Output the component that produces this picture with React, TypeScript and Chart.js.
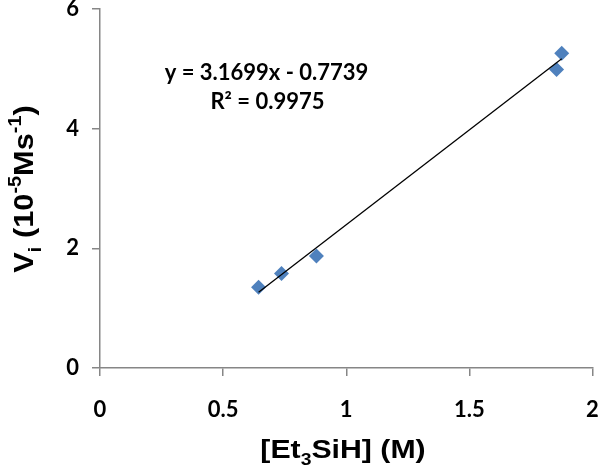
import React, { useEffect, useRef } from "react";
import { Chart, registerables } from "chart.js";

Chart.register(...registerables);

const concentrations = [0.644, 0.737, 0.879, 1.854, 1.875];
const rates = [1.35, 1.58, 1.87, 4.99, 5.26];
const slope = 3.1699;
const intercept = -0.7739;
const trendX = [0.644, 1.875];
const xTicks = [0, 0.5, 1, 1.5, 2];
const yTicks = [0, 2, 4, 6];
const eqLines = ["y = 3.1699x - 0.7739", "R² = 0.9975"];

type Seg = { t: string; k?: "sub" | "sup" };

const xTitle: Seg[] = [{ t: "[Et" }, { t: "3", k: "sub" }, { t: "SiH] (M)" }];
const yTitle: Seg[] = [
  { t: "V" },
  { t: "i", k: "sub" },
  { t: " (10" },
  { t: "-5", k: "sup" },
  { t: "Ms" },
  { t: "-1", k: "sup" },
  { t: ")" },
];

function drawRich(ctx: CanvasRenderingContext2D, segs: Seg[], size: number, family: string) {
  const fontFor = (s: Seg) => `bold ${s.k ? Math.round(size * 0.65) : size}px ${family}`;
  let total = 0;
  for (const s of segs) {
    ctx.font = fontFor(s);
    total += ctx.measureText(s.t).width;
  }
  let x = -total / 2;
  ctx.textAlign = "left";
  ctx.textBaseline = "alphabetic";
  for (const s of segs) {
    ctx.font = fontFor(s);
    const dy = s.k === "sub" ? size * 0.28 : s.k === "sup" ? -size * 0.42 : 0;
    ctx.fillText(s.t, x, dy);
    x += ctx.measureText(s.t).width;
  }
}

const titlesPlugin = {
  id: "titles",
  afterDraw(chart: any) {
    const ctx = chart.ctx as CanvasRenderingContext2D;
    const xs = chart.scales.x;
    const ys = chart.scales.y;
    ctx.save();
    ctx.fillStyle = "#000";
    ctx.save();
    ctx.translate(343, 458);
    ctx.scale(1.21, 1);
    drawRich(ctx, xTitle, 25, "'Liberation Sans', Arial, sans-serif");
    ctx.restore();
    ctx.save();
    ctx.translate(33, 189);
    ctx.rotate(-Math.PI / 2);
    ctx.scale(1.1, 1);
    drawRich(ctx, yTitle, 28, "'Liberation Sans', Arial, sans-serif");
    ctx.restore();
    ctx.font = "bold 22px Lato, sans-serif";
    ctx.textAlign = "center";
    ctx.textBaseline = "middle";
    ctx.fillText(eqLines[0], xs.getPixelForValue(0.676), ys.getPixelForValue(4.94));
    ctx.fillText(eqLines[1], xs.getPixelForValue(0.68), ys.getPixelForValue(4.44));
    ctx.restore();
  },
};

export default function App() {
  const ref = useRef<HTMLCanvasElement>(null);
  useEffect(() => {
    if (!ref.current) return;
    const axisColor = "#868686";
    const tickFont = { family: "Lato, sans-serif", size: 22, weight: "bold" as const };
    const chart = new Chart(ref.current, {
      type: "scatter",
      data: {
        datasets: [
          {
            type: "line",
            data: trendX.map((x) => ({ x, y: slope * x + intercept })),
            borderColor: "#000",
            borderWidth: 1.3,
            pointRadius: 0,
            fill: false,
          },
          {
            data: concentrations.map((x, i) => ({ x, y: rates[i] })),
            pointStyle: "rectRot",
            pointRadius: 7.5,
            backgroundColor: "#4F81BD",
            borderColor: "#4F81BD",
            borderWidth: 0,
          },
        ],
      },
      options: {
        animation: false,
        responsive: false,
        layout: { padding: { top: 9, right: 6, left: 0, bottom: 0 } },
        plugins: { legend: { display: false }, tooltip: { enabled: false } },
        scales: {
          x: {
            type: "linear",
            min: 0,
            max: 2,
            afterBuildTicks: (s: any) => {
              s.ticks = xTicks.map((v) => ({ value: v }));
            },
            afterFit: (s: any) => {
              s.height = 101;
              s.paddingLeft = 0;
              s.paddingRight = 0;
            },
            ticks: {
              color: "#000",
              font: tickFont,
              padding: 21,
              maxRotation: 0,
              callback: (v: any) => String(v),
            },
            grid: { drawOnChartArea: false, drawTicks: true, tickLength: 8, color: axisColor, lineWidth: 1.5 },
            border: { color: axisColor, width: 1.5 },
          },
          y: {
            type: "linear",
            min: 0,
            max: 6,
            afterBuildTicks: (s: any) => {
              s.ticks = yTicks.map((v) => ({ value: v }));
            },
            afterFit: (s: any) => {
              s.width = 100;
              s.paddingTop = 0;
              s.paddingBottom = 0;
            },
            ticks: { color: "#000", font: tickFont, padding: 13, callback: (v: any) => String(v) },
            grid: { drawOnChartArea: false, drawTicks: true, tickLength: 8, color: axisColor, lineWidth: 1.5 },
            border: { color: axisColor, width: 1.5 },
          },
        },
      },
      plugins: [titlesPlugin],
    });
    return () => chart.destroy();
  }, []);
  return (
    <div style={{ position: "absolute", left: 0, top: 0, width: 600, height: 469, background: "#fff" }}>
      <canvas ref={ref} width={600} height={469} />
    </div>
  );
}
